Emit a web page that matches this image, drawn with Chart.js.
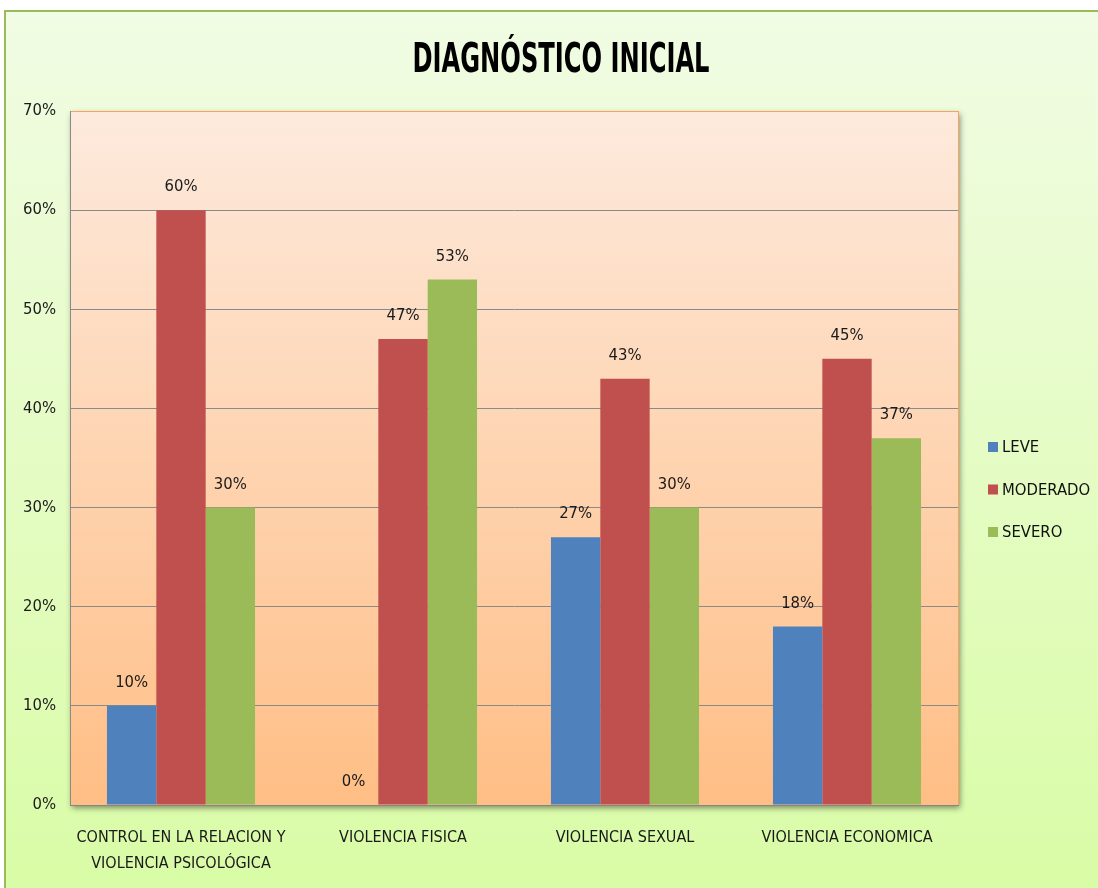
<!DOCTYPE html>
<html>
<head>
<meta charset="utf-8">
<script src="https://cdn.jsdelivr.net/npm/chart.js@4/dist/chart.umd.min.js"></script>
<style>
  html, body { margin: 0; padding: 0; background: #fff; }
  #wrap { width: 1098px; height: 888px; }
</style>
</head>
<body>
<div id="wrap"><canvas id="chart" width="1098" height="888"></canvas></div>
<script>
  // datos del gráfico
  const categorias = [
    ['CONTROL EN LA RELACION Y', 'VIOLENCIA PSICOLÓGICA'],
    'VIOLENCIA FISICA',
    'VIOLENCIA SEXUAL',
    'VIOLENCIA ECONOMICA'
  ];
  const leve = [10, 0, 27, 18];
  const moderado = [60, 47, 43, 45];
  const severo = [30, 53, 30, 37];
  const series = ['LEVE', 'MODERADO', 'SEVERO'];
  const colores = ['#4F81BD', '#C0504D', '#9BBB59'];
  const titulo = 'DIAGNÓSTICO INICIAL';

  const fuente = "'DejaVu Sans Condensed', 'Liberation Sans Narrow', sans-serif";

  // fondo exterior, área de trazado con degradado y título
  const fondoPlugin = {
    id: 'fondo',
    beforeDraw(chart) {
      const { ctx, chartArea: a, width, height } = chart;
      ctx.save();
      ctx.fillStyle = '#ffffff';
      ctx.fillRect(0, 0, width, height);
      const g = ctx.createLinearGradient(0, 11, 0, height);
      g.addColorStop(0, '#F1FCE4');
      g.addColorStop(1, '#D9FCA6');
      ctx.fillStyle = g;
      ctx.fillRect(5, 11, width, height);
      ctx.strokeStyle = '#9BBB59';
      ctx.lineWidth = 2;
      ctx.strokeRect(5, 11, width + 10, height + 10);

      ctx.shadowColor = 'rgba(0,0,0,0.45)';
      ctx.shadowBlur = 6;
      ctx.shadowOffsetX = 2;
      ctx.shadowOffsetY = 3;
      const g2 = ctx.createLinearGradient(0, a.top, 0, a.bottom);
      g2.addColorStop(0, '#FDEADD');
      g2.addColorStop(1, '#FFBE85');
      ctx.fillStyle = g2;
      ctx.fillRect(a.left, a.top, a.width, a.height);
      ctx.shadowColor = 'transparent';
      ctx.strokeStyle = '#F6A35E';
      ctx.lineWidth = 1;
      ctx.strokeRect(a.left + 0.5, a.top + 0.5, a.width, a.height);

      // título condensado
      ctx.font = 'bold 40px ' + fuente;
      ctx.fillStyle = '#000';
      ctx.textBaseline = 'alphabetic';
      ctx.textAlign = 'center';
      const w = ctx.measureText(titulo).width;
      ctx.translate(561, 72);
      ctx.scale(297 / w, 1);
      ctx.fillText(titulo, 0, 0);
      ctx.restore();
    }
  };

  // etiquetas de valor encima de cada barra
  const etiquetasPlugin = {
    id: 'etiquetas',
    afterDatasetsDraw(chart) {
      const ctx = chart.ctx;
      ctx.save();
      ctx.font = '16.5px ' + fuente;
      ctx.fillStyle = '#1a1a1a';
      ctx.textAlign = 'center';
      ctx.textBaseline = 'bottom';
      chart.data.datasets.forEach((ds, i) => {
        chart.getDatasetMeta(i).data.forEach((bar, j) => {
          ctx.fillText(ds.data[j] + '%', bar.x, bar.y - 15);
        });
      });
      ctx.restore();
    }
  };

  // leyenda a la derecha
  const leyendaPlugin = {
    id: 'leyenda',
    afterDraw(chart) {
      const ctx = chart.ctx;
      const x = chart.chartArea.right + 30;
      ctx.save();
      ctx.font = '16.5px ' + fuente;
      ctx.textBaseline = 'middle';
      chart.data.datasets.forEach((ds, i) => {
        const y = 447 + i * 42.5;
        ctx.fillStyle = ds.backgroundColor;
        ctx.fillRect(x, y - 5, 10, 10);
        ctx.fillStyle = '#111';
        ctx.fillText(ds.label, x + 14, y + 1);
      });
      ctx.restore();
    }
  };

  new Chart(document.getElementById('chart'), {
    type: 'bar',
    data: {
      labels: categorias,
      datasets: [
        { label: series[0], data: leve, backgroundColor: colores[0] },
        { label: series[1], data: moderado, backgroundColor: colores[1] },
        { label: series[2], data: severo, backgroundColor: colores[2] }
      ]
    },
    options: {
      responsive: false,
      animation: false,
      layout: { padding: { left: 0, right: 140, top: 111, bottom: 0 } },
      datasets: { bar: { barPercentage: 1.0, categoryPercentage: 0.667 } },
      plugins: {
        legend: { display: false },
        tooltip: { enabled: false },
        title: { display: false }
      },
      scales: {
        x: {
          grid: { display: false },
          border: { display: true, color: '#868686' },
          ticks: {
            color: '#1a1a1a',
            font: { family: fuente, size: 16, lineHeight: 1.6 },
            padding: 12,
            maxRotation: 0,
            autoSkip: false
          },
          afterFit(scale) { scale.height = 83; }
        },
        y: {
          min: 0,
          max: 70,
          grid: {
            color: c => (c.tick && c.tick.value === 70 ? 'rgba(0,0,0,0)' : '#8A8A8A'),
            drawTicks: false
          },
          border: { display: true, color: '#8A8A8A' },
          ticks: {
            stepSize: 10,
            color: '#1a1a1a',
            padding: 14,
            font: { family: fuente, size: 16.5 },
            callback: v => v + '%'
          },
          afterFit(scale) { scale.width = 70; }
        }
      }
    },
    plugins: [fondoPlugin, etiquetasPlugin, leyendaPlugin]
  });
</script>
</body>
</html>
